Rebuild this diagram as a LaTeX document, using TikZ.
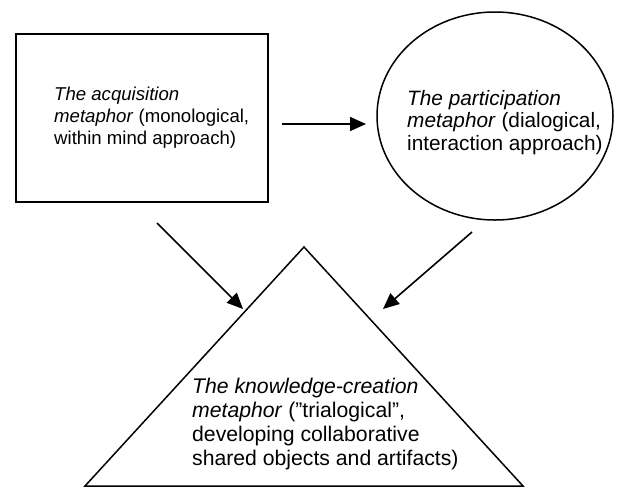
\documentclass[tikz,border=0pt]{standalone}
\usepackage{fontspec}
\setmainfont{Liberation Sans}
\usetikzlibrary{shapes.geometric,arrows.meta}
\begin{document}
\begin{tikzpicture}[x=1pt,y=-1pt,
  shapeline/.style={draw=black,line width=1.5pt},
  flow/.style={draw=black,line width=1.6pt,-{Triangle[length=16pt,width=14pt]}},
  label/.style={anchor=base west,inner sep=0pt,align=left}]
\useasboundingbox (0,0) rectangle (621,488);
% the three metaphors
\node[shapeline,line width=2pt,rectangle,minimum width=252pt,minimum height=168pt] (acq) at (142,118) {};
\node[shapeline,ellipse,minimum width=236pt,minimum height=208pt,line width=1.5pt] (part) at (495,116) {};
\coordinate (apex) at (304,247);
\coordinate (bl) at (85,486);
\coordinate (br) at (523,486);
\draw[shapeline,line join=miter] (bl) -- (apex) -- (br) -- cycle;
% texts (each node is placed at the baseline of its last line)
\node[label,font=\fontsize{18.6}{22}\selectfont] (acqtext) at (54,144)
  {\textit{The acquisition}\\\textit{metaphor} (monological,\\within mind approach)};
\node[label,font=\fontsize{20.8}{22.5}\selectfont] (parttext) at (407,150)
  {\textit{The participation}\\\textit{metaphor} (dialogical,\\interaction approach)};
\node[label,font=\fontsize{21.2}{24}\selectfont] (kctext) at (192,465)
  {\textit{The knowledge-creation}\\\textit{metaphor} (”trialogical”,\\developing collaborative\\shared objects and artifacts)};
% connectors
\coordinate (h1) at (282,124);
\coordinate (h2) at (366,124);
\coordinate (l1) at (157,223);
\coordinate (l2) at (243,309);
\coordinate (r1) at (472,232);
\coordinate (r2) at (383,309);
\draw[flow] (h1) -- (h2);
\draw[flow] (l1) -- (l2);
\draw[flow] (r1) -- (r2);
\end{tikzpicture}
\end{document}
